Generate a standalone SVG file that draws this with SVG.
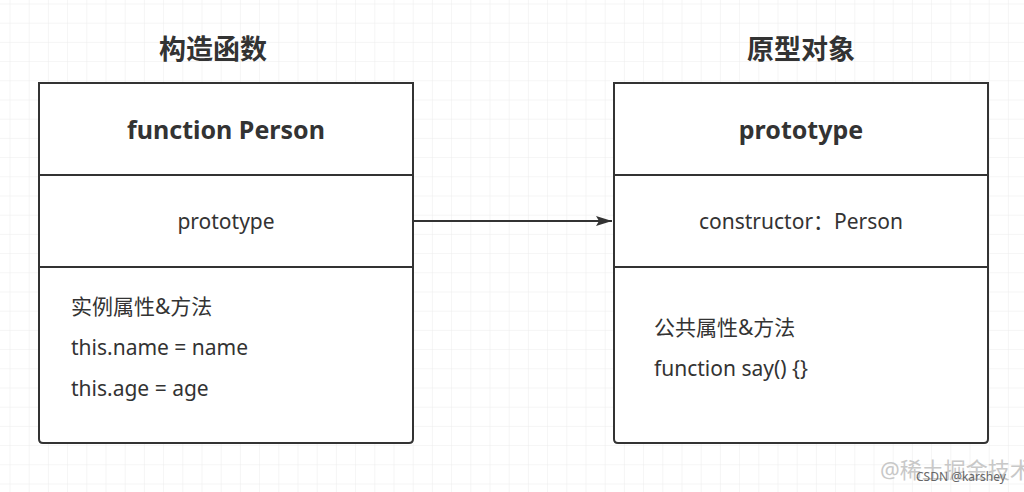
<svg xmlns="http://www.w3.org/2000/svg" width="1024" height="492" viewBox="0 0 1024 492">
<defs>
<pattern id="grid" x="9.5" y="3.5" width="19.2" height="19.2" patternUnits="userSpaceOnUse">
<path d="M0 0H19.2M0 0V19.2" fill="none" stroke="#ececec" stroke-width="1"/>
</pattern>
<marker id="arr" viewBox="0 0 16 10" refX="16" refY="5" markerWidth="8" markerHeight="5" orient="auto" markerUnits="strokeWidth">
<path d="M0 0L16 5L0 10L3 5z" fill="#333"/>
</marker>
<style>
.box{fill:#fff;stroke:#333;stroke-width:2}
.div{stroke:#333;stroke-width:2}
.t{font-family:"Noto Sans","Noto Sans CJK SC",sans-serif;fill:#333}
.title{font-size:27px;font-weight:bold;text-anchor:middle}
.head{font-size:25px;font-weight:bold;text-anchor:middle}
.mid{font-size:21px;text-anchor:middle}
.body{font-size:21px}
.wm{font-family:"Noto Sans","Noto Sans CJK SC",sans-serif}
</style>
</defs>
<rect width="1024" height="492" fill="#fff"/>
<rect width="1024" height="492" fill="url(#grid)"/>
<g id="title-left"><text class="t title" x="213" y="59">构造函数</text></g>
<g id="title-right"><text class="t title" x="801" y="59">原型对象</text></g>
<g id="node-person">
<path class="box" d="M39 83H413V439Q413 443 409 443H43Q39 443 39 439Z"/>
<line class="div" x1="39" y1="175" x2="413" y2="175"/>
<line class="div" x1="39" y1="267" x2="413" y2="267"/>
<text class="t head" x="226" y="139">function Person</text>
<text class="t mid" x="226" y="229">prototype</text>
<text class="t body" x="71" y="314">实例属性&amp;方法</text>
<text class="t body" x="71" y="355">this.name = name</text>
<text class="t body" x="71" y="396">this.age = age</text>
</g>
<g id="node-prototype">
<path class="box" d="M614 83H988V439Q988 443 984 443H618Q614 443 614 439Z"/>
<line class="div" x1="614" y1="175" x2="988" y2="175"/>
<line class="div" x1="614" y1="267" x2="988" y2="267"/>
<text class="t head" x="801" y="139">prototype</text>
<text class="t mid" x="801" y="229">constructor：Person</text>
<text class="t body" x="654" y="335">公共属性&amp;方法</text>
<text class="t body" x="654" y="376">function say() {}</text>
</g>
<g id="connectors">
<line x1="413" y1="221" x2="612" y2="221" stroke="#333" stroke-width="2" marker-end="url(#arr)"/>
</g>
<g id="watermark">
<text class="wm" x="880" y="478" font-size="22" fill="#c8c8c8">@稀土掘金技术</text>
<text class="wm" x="916" y="481" font-size="12" fill="#666">CSDN @karshey</text>
</g>
</svg>
